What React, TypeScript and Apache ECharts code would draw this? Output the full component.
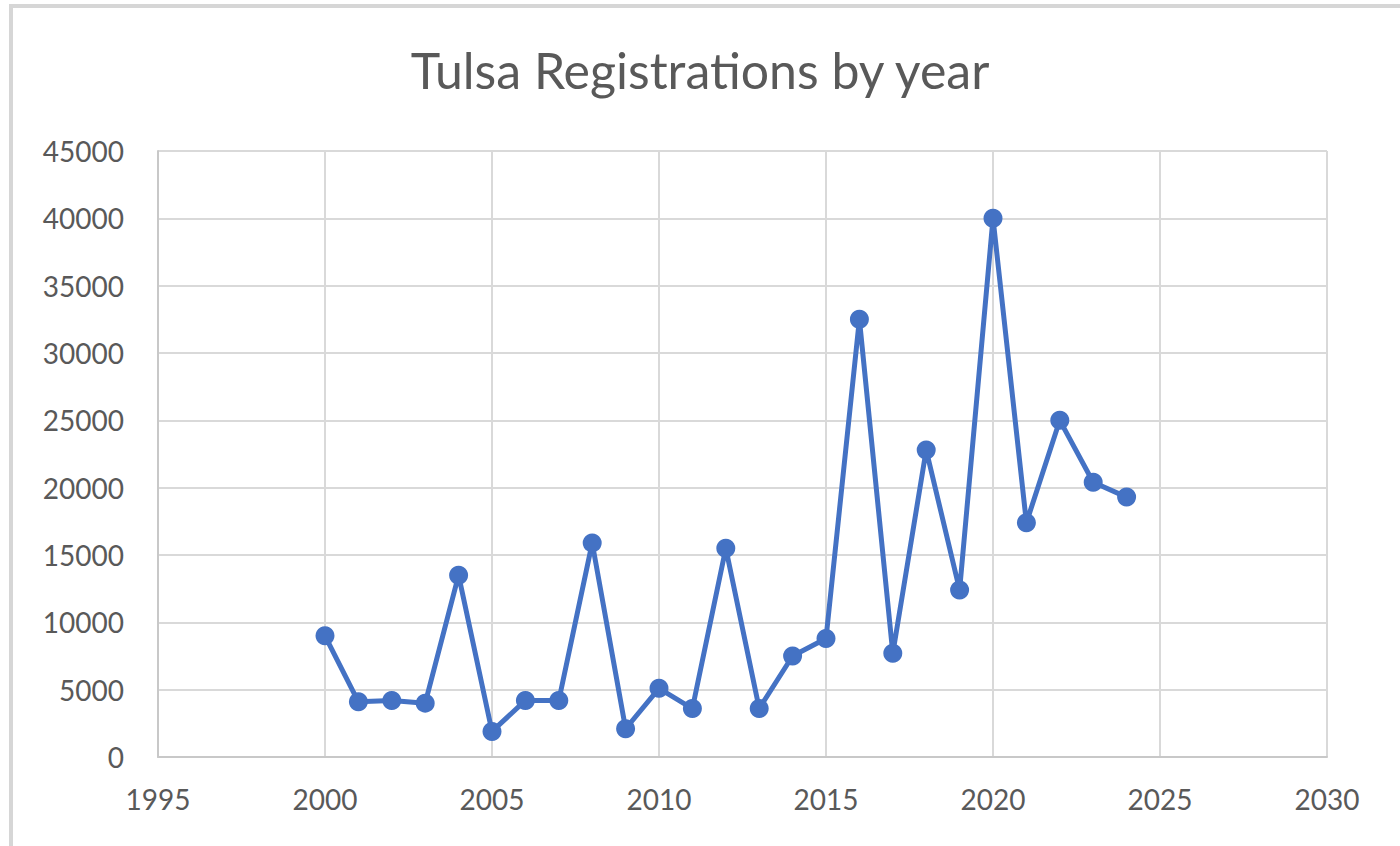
import React, { useEffect, useRef } from "react";
import * as echarts from "echarts";

const titleText = "Tulsa Registrations by year";
const years = [2000, 2001, 2002, 2003, 2004, 2005, 2006, 2007, 2008, 2009, 2010, 2011, 2012, 2013, 2014, 2015, 2016, 2017, 2018, 2019, 2020, 2021, 2022, 2023, 2024];
const registrations = [9000, 4100, 4200, 4000, 13500, 1900, 4200, 4200, 15900, 2100, 5100, 3600, 15500, 3600, 7500, 8800, 32500, 7700, 22800, 12400, 40000, 17400, 25000, 20400, 19300];
const xTicks = { min: 1995, max: 2030, interval: 5 };
const yTicks = { min: 0, max: 45000, interval: 5000 };

export default function App() {
  const ref = useRef<HTMLDivElement>(null);
  useEffect(() => {
    if (!ref.current) return;
    const chart = echarts.init(ref.current, undefined, { renderer: "svg" });
    const font = "Lato, 'Open Sans', sans-serif";
    chart.setOption({
      animation: false,
      backgroundColor: "#ffffff",
      title: {
        text: titleText,
        left: "center",
        top: 40,
        textStyle: { fontFamily: font, fontSize: 50, fontWeight: "normal", color: "#595959" },
      },
      graphic: [
        {
          type: "rect",
          shape: { x: 11, y: 6, width: 1420, height: 900 },
          style: { fill: "none", stroke: "#d6d6d6", lineWidth: 4 },
          silent: true,
        },
      ],
      grid: { left: 158, right: 73, top: 151, bottom: 89 },
      xAxis: {
        type: "value",
        min: xTicks.min,
        max: xTicks.max,
        interval: xTicks.interval,
        axisLine: { show: true, lineStyle: { color: "#c8c8c8", width: 2 } },
        axisTick: { show: false },
        splitLine: { show: true, lineStyle: { color: "#d9d9d9", width: 2 } },
        axisLabel: { fontFamily: font, fontSize: 28, color: "#595959", margin: 28, formatter: (v: number) => String(v) },
      },
      yAxis: {
        type: "value",
        min: yTicks.min,
        max: yTicks.max,
        interval: yTicks.interval,
        axisLine: { show: true, lineStyle: { color: "#c8c8c8", width: 2 } },
        axisTick: { show: false },
        splitLine: { show: true, lineStyle: { color: "#d9d9d9", width: 2 } },
        axisLabel: { fontFamily: font, fontSize: 28, color: "#595959", margin: 34, formatter: (v: number) => String(v) },
      },
      series: [
        {
          type: "line",
          data: years.map((y, i) => [y, registrations[i]]),
          symbol: "circle",
          symbolSize: 19,
          lineStyle: { color: "#4472C4", width: 5 },
          itemStyle: { color: "#4472C4" },
        },
      ],
    });
    return () => chart.dispose();
  }, []);
  return <div ref={ref} style={{ position: "fixed", left: 0, top: 0, width: 1400, height: 846 }} />;
}
